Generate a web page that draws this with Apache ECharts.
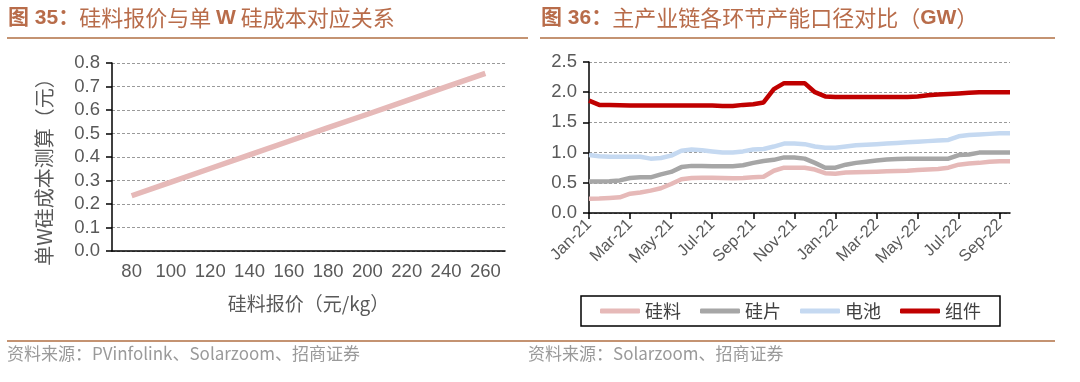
<!DOCTYPE html>
<html><head><meta charset="utf-8">
<script src="https://cdn.jsdelivr.net/npm/echarts@6/dist/echarts.min.js"></script>
<style>html,body{margin:0;padding:0;background:#fff}#c{width:1080px;height:382px}</style>
</head><body><div id="c"></div>
<script>
// ---- Left chart data ----
const priceCategories = ['80','100','120','140','160','180','200','220','240','260'];
const costPerW = [0.235, 0.293, 0.351, 0.409, 0.467, 0.525, 0.582, 0.640, 0.698, 0.756];

// ---- Right chart data (half-month slots from Jan-21) ----
const monthTickLabels = ['Jan-21','Mar-21','May-21','Jul-21','Sep-21','Nov-21','Jan-22','Mar-22','May-22','Jul-22','Sep-22'];
const slotMonths = ['0','0.5','1','1.5','2','2.5','3','3.5','4','4.5','5','5.5','6','6.5','7','7.5','8','8.5','9','9.5','10','10.5','11','11.5','12','12.5','13','13.5','14','14.5','15','15.5','16','16.5','17','17.5','18','18.5','19','19.5','20','20.4'];
const polysilicon = [0.235,0.24,0.25,0.26,0.32,0.34,0.37,0.41,0.48,0.56,0.58,0.585,0.585,0.58,0.575,0.58,0.59,0.60,0.70,0.75,0.75,0.75,0.72,0.66,0.65,0.67,0.675,0.68,0.685,0.69,0.695,0.70,0.71,0.72,0.73,0.75,0.80,0.82,0.83,0.85,0.855,0.855];
const wafer = [0.52,0.52,0.525,0.54,0.58,0.59,0.59,0.64,0.68,0.76,0.78,0.78,0.775,0.775,0.775,0.79,0.83,0.86,0.88,0.92,0.92,0.90,0.83,0.75,0.75,0.80,0.83,0.85,0.87,0.885,0.895,0.90,0.90,0.90,0.90,0.90,0.96,0.97,1.00,1.00,1.00,1.00];
const cell = [0.96,0.94,0.93,0.93,0.93,0.93,0.90,0.91,0.95,1.03,1.05,1.04,1.02,1.00,1.00,1.02,1.05,1.06,1.10,1.15,1.15,1.14,1.10,1.08,1.08,1.10,1.12,1.13,1.14,1.15,1.16,1.17,1.18,1.19,1.20,1.21,1.27,1.29,1.30,1.31,1.32,1.32];
const moduleCap = [1.86,1.79,1.79,1.785,1.78,1.78,1.78,1.78,1.78,1.78,1.78,1.78,1.78,1.77,1.77,1.79,1.80,1.83,2.05,2.15,2.15,2.15,2.00,1.93,1.92,1.92,1.92,1.92,1.92,1.92,1.92,1.92,1.93,1.95,1.96,1.97,1.98,1.99,2.00,2.00,2.00,2.00];

const FONT = "'Liberation Sans','Noto Sans CJK SC',sans-serif";
const CJK = "'Noto Sans CJK SC','Liberation Sans',sans-serif";
const TITLE_COLOR = '#b86c4a';
const RULE_COLOR = '#c49372';
const LABEL = '#595959';

const chart = echarts.init(document.getElementById('c'), null, {renderer:'canvas'});
const axisLineStyle = {color:'#000', width:1.5};
chart.setOption({
  animation:false,
  textStyle:{fontFamily:FONT},
  grid:[
    {left:112, top:63, width:393, height:188},
    {left:589, top:62, width:421, height:151}
  ],
  xAxis:[
    {gridIndex:0, type:'category', data:priceCategories, boundaryGap:true,
     axisLine:{lineStyle:axisLineStyle},
     axisTick:{length:6, lineStyle:{color:'#000', width:1.5}},
     axisLabel:{interval:0, fontSize:18.5, color:LABEL, margin:12, fontFamily:FONT},
     name:'硅料报价（元/kg）', nameLocation:'middle', nameGap:43,
     nameTextStyle:{fontSize:19, color:LABEL, fontFamily:CJK}},
    {gridIndex:1, type:'category', data:slotMonths, boundaryGap:false,
     axisLine:{lineStyle:axisLineStyle},
     axisTick:{interval:3, length:6, lineStyle:{color:'#000', width:1.5}},
     axisLabel:{interval:3, rotate:45, fontSize:16.5, color:LABEL, margin:9, fontFamily:FONT,
       formatter:(v,i)=> monthTickLabels[Math.round(i/4)] }}
  ],
  yAxis:[
    {gridIndex:0, type:'value', min:0, max:0.8, interval:0.1,
     axisLine:{show:true, lineStyle:axisLineStyle},
     axisTick:{show:true, length:6, lineStyle:{color:'#000', width:1.5}},
     axisLabel:{fontSize:18.5, color:LABEL, margin:12, formatter:v=>v.toFixed(1)},
     splitLine:{lineStyle:{type:[3,2], color:'#9a9a9a', width:1}},
     name:'单W硅成本测算（元）', nameLocation:'middle', nameGap:58, nameRotate:90,
     nameTextStyle:{fontSize:20, color:LABEL, fontFamily:CJK, padding:[0,0,0,-20]}},
    {gridIndex:1, type:'value', min:0, max:2.5, interval:0.5,
     axisLine:{show:true, lineStyle:axisLineStyle},
     axisTick:{show:true, length:6, lineStyle:{color:'#000', width:1.5}},
     axisLabel:{fontSize:18.5, color:LABEL, margin:12, formatter:v=>v.toFixed(1)},
     splitLine:{lineStyle:{type:[3,2], color:'#9a9a9a', width:1}}}
  ],
  legend:{
    left:581, top:296, data:['硅料','硅片','电池','组件'],
    icon:'roundRect', itemWidth:40, itemHeight:5, itemGap:19,
    borderColor:'#000', borderWidth:1.5, padding:[6,19], borderRadius:0,
    textStyle:{fontSize:18, color:'#404040', fontFamily:CJK}
  },
  series:[
    {name:'单W硅成本', type:'line', xAxisIndex:0, yAxisIndex:0, data:costPerW, symbol:'none',
     lineStyle:{color:'#e6b9b8', width:5.5}, itemStyle:{color:'#e6b9b8'}},
    {name:'硅料', type:'line', xAxisIndex:1, yAxisIndex:1, data:polysilicon, symbol:'none',
     lineStyle:{color:'#e6b9b8', width:4.5}, itemStyle:{color:'#e6b9b8'}},
    {name:'硅片', type:'line', xAxisIndex:1, yAxisIndex:1, data:wafer, symbol:'none',
     lineStyle:{color:'#a6a6a6', width:4.5}, itemStyle:{color:'#a6a6a6'}},
    {name:'电池', type:'line', xAxisIndex:1, yAxisIndex:1, data:cell, symbol:'none',
     lineStyle:{color:'#c5d9f1', width:4.5}, itemStyle:{color:'#c5d9f1'}},
    {name:'组件', type:'line', xAxisIndex:1, yAxisIndex:1, data:moduleCap, symbol:'none',
     lineStyle:{color:'#c00000', width:4.5}, itemStyle:{color:'#c00000'}}
  ],
  graphic:[
    {type:'text', left:8, top:7, style:{text:'{b|图 35：}硅料报价与单 {b|W} 硅成本对应关系', fill:TITLE_COLOR, font:'22px '+CJK,
      rich:{b:{fontWeight:'bold', fontSize:21, fontFamily:FONT, fill:TITLE_COLOR}}}},
    {type:'text', left:541, top:7, style:{text:'{b|图 36：}主产业链各环节产能口径对比（{b|GW}）', fill:TITLE_COLOR, font:'22px '+CJK,
      rich:{b:{fontWeight:'bold', fontSize:21, fontFamily:FONT, fill:TITLE_COLOR}}}},
    {type:'line', shape:{x1:7, y1:38, x2:528, y2:38}, style:{stroke:RULE_COLOR, lineWidth:2}},
    {type:'line', shape:{x1:540, y1:38, x2:1055, y2:38}, style:{stroke:RULE_COLOR, lineWidth:2}},
    {type:'line', shape:{x1:7, y1:341, x2:1055, y2:341}, style:{stroke:RULE_COLOR, lineWidth:2}},
    {type:'text', left:7, top:345, style:{text:'资料来源：PVinfolink、Solarzoom、招商证券', fill:'#9a9a9a', font:'17px '+CJK}},
    {type:'text', left:528, top:345, style:{text:'资料来源：Solarzoom、招商证券', fill:'#9a9a9a', font:'17px '+CJK}}
  ]
});
</script></body></html>
